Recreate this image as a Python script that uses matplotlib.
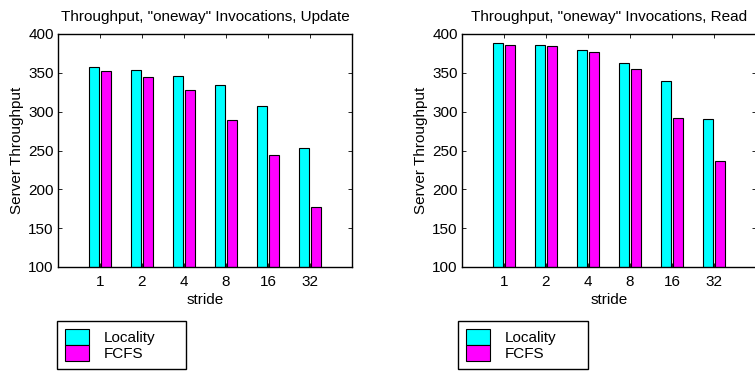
import numpy as np
import matplotlib
matplotlib.use("Agg")
import matplotlib.pyplot as plt

plt.rcParams['font.family'] = ['Liberation Sans', 'DejaVu Sans']

strides = ['1', '2', '4', '8', '16', '32']
update_locality = [357, 354, 346, 334, 307, 253]
update_fcfs = [352, 345, 328, 289, 244, 177]
read_locality = [388, 386, 380, 363, 339, 291]
read_fcfs = [386, 385, 377, 355, 292, 236]
series_names = ['Locality', 'FCFS']
colors = ['#00ffff', '#ff00ff']

fig = plt.figure(figsize=(7.55, 3.74), dpi=100)
ax1 = fig.add_axes([58/755, 107/374, 294/755, 233/374])
ax2 = fig.add_axes([462/755, 107/374, 294/755, 233/374])

x = np.arange(1, len(strides) + 1)
w = 0.23
off = 0.145
fs = 11

def draw(ax, loc, fcfs, title):
    b1 = ax.bar(x - off, loc, w, bottom=0, color=colors[0], edgecolor='black', linewidth=0.8)
    b2 = ax.bar(x + off, fcfs, w, bottom=0, color=colors[1], edgecolor='black', linewidth=0.8)
    ax.set_xlim(0, 7)
    ax.set_ylim(100, 400)
    ax.set_yticks(range(100, 401, 50))
    ax.set_xticks(x)
    ax.set_xticklabels(strides)
    ax.tick_params(direction='in', length=3, width=0.6, labelsize=fs,
                   top=True, right=True, colors='black')
    ax.tick_params(axis='x', pad=6)
    ax.tick_params(axis='y', pad=3)
    for s in ax.spines.values():
        s.set_linewidth(1.0)
    ax.set_xlabel('stride', fontsize=fs, labelpad=3)
    ax.set_ylabel('Server Throughput', fontsize=fs, labelpad=3)
    ax.set_title(title, fontsize=fs, pad=9)
    return b1, b2

h = draw(ax1, update_locality, update_fcfs, 'Throughput, "oneway" Invocations, Update')
draw(ax2, read_locality, read_fcfs, 'Throughput, "oneway" Invocations, Read')

for x0, x1 in [(57, 186), (458, 588)]:
    leg = fig.legend(h, series_names, loc='upper left',
                     bbox_to_anchor=(x0/755, 0, (x1 - x0)/755, 1 - 321/374),
                     mode='expand', borderaxespad=0, borderpad=0.52,
                     handlelength=1.57, handleheight=1.24, handletextpad=0.98,
                     labelspacing=0, fancybox=False, edgecolor='black',
                     fontsize=fs, framealpha=1)
    leg.get_frame().set_linewidth(1.0)

fig.savefig('out.png', dpi=100)
